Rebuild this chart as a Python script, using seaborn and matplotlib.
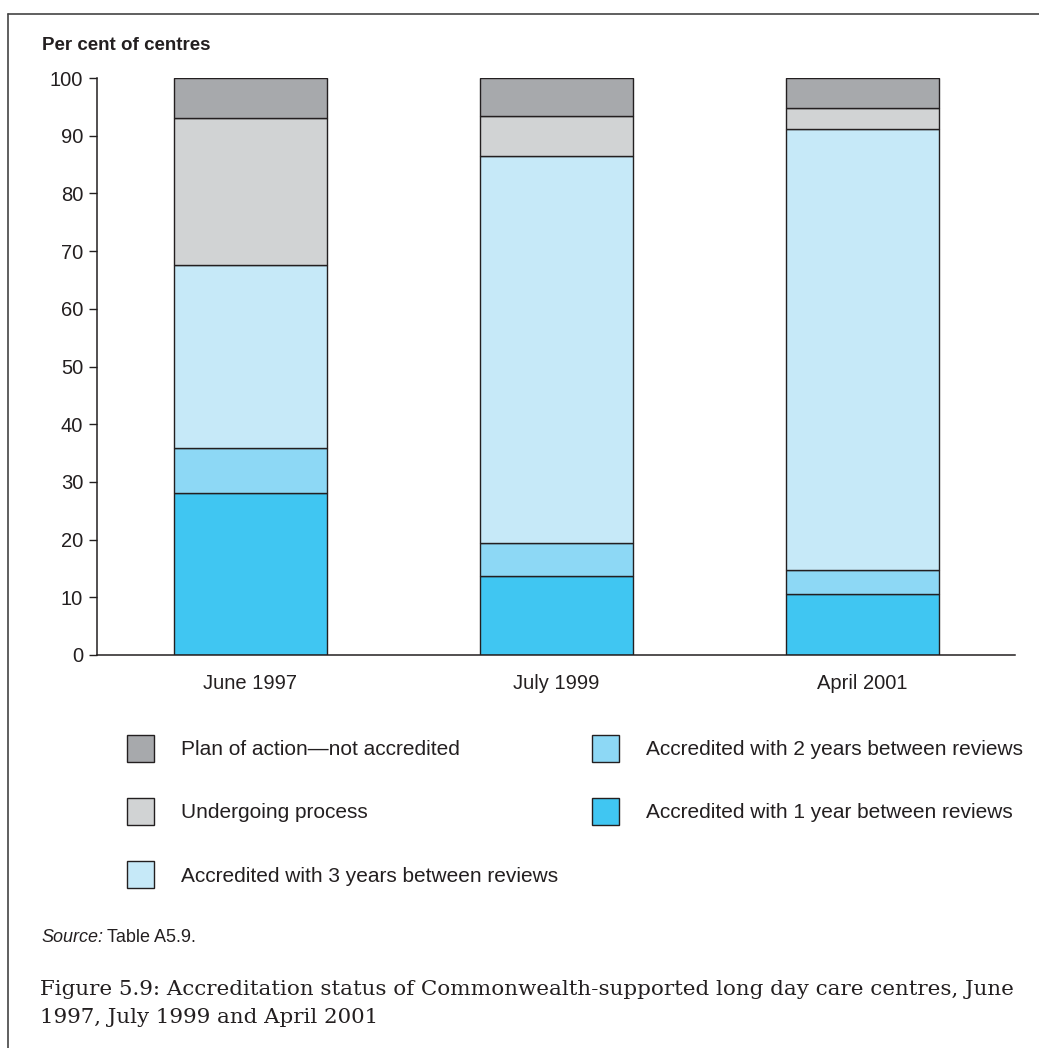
import numpy as np
import pandas as pd
import matplotlib
matplotlib.use("Agg")
import matplotlib.pyplot as plt
from matplotlib.lines import Line2D
from matplotlib.patches import Patch
import seaborn as sns

# Accreditation status, per cent of centres
periods = ["June 1997", "July 1999", "April 2001"]
one_year = [28.0, 13.7, 10.6]
two_years = [7.9, 5.7, 4.2]
three_years = [31.7, 67.1, 76.3]
undergoing = [25.5, 7.0, 3.7]
plan_of_action = [6.9, 6.5, 5.2]

series_names = [
    "Accredited with 1 year between reviews",
    "Accredited with 2 years between reviews",
    "Accredited with 3 years between reviews",
    "Undergoing process",
    "Plan of action\u2014not accredited",
]
series_values = [one_year, two_years, three_years, undergoing, plan_of_action]
series_colors = ["#40C6F2", "#8DD8F5", "#C6E9F8", "#D1D3D4", "#A7A9AC"]
y_ticks = [0, 10, 20, 30, 40, 50, 60, 70, 80, 90, 100]

sns.set_theme(style="white")
plt.rcParams["font.family"] = ["Liberation Sans", "DejaVu Sans"]
ink = "#231F20"

W, H = 1039, 1048
fig = plt.figure(figsize=(W / 100, H / 100), dpi=100)
ax = fig.add_axes([97 / W, 1 - 655 / H, (1015 - 97) / W, (655 - 78) / H])

bottoms = np.zeros(len(periods))
for name, vals, col in zip(series_names, series_values, series_colors):
    df = pd.DataFrame({"period": periods, "value": vals})
    sns.barplot(data=df, x="period", y="value", order=periods, color=col,
                width=0.5, bottom=bottoms.copy(), edgecolor=ink, linewidth=1.0,
                saturation=1, ax=ax, errorbar=None)
    bottoms += np.array(vals)

ax.set_xlim(-0.5, 2.5)
ax.set_ylim(0, 100)
ax.set_yticks(y_ticks)
ax.set_xlabel("")
ax.set_ylabel("")
for s in ["top", "right"]:
    ax.spines[s].set_visible(False)
for s in ["left", "bottom"]:
    ax.spines[s].set_color(ink)
    ax.spines[s].set_linewidth(1.1)
ax.tick_params(axis="y", length=6, width=1.0, color=ink, pad=4,
               labelsize=14.5, labelcolor=ink, left=True)
ax.tick_params(axis="x", length=0, pad=14, labelsize=14.5, labelcolor=ink)

fig.text(42 / W, 1 - 45 / H, "Per cent of centres", fontsize=13.5,
         fontweight="bold", color=ink, va="center", ha="left")

# Two-column key below the plot
def key(names, x_left, y_top):
    handles = [Patch(facecolor=series_colors[series_names.index(n)],
                     edgecolor=ink, linewidth=1.0) for n in names]
    leg = fig.legend(handles, names, loc="upper left",
                     bbox_to_anchor=(x_left / W, 1 - y_top / H),
                     frameon=False, fontsize=15, handlelength=1.3,
                     handleheight=1.6, handletextpad=1.3, labelspacing=1.75,
                     borderaxespad=0, borderpad=0)
    for t in leg.get_texts():
        t.set_color(ink)
    return leg

key([series_names[4], series_names[3], series_names[2]], 127, 735)
key([series_names[1], series_names[0]], 592, 735)

src_label = fig.text(41 / W, 1 - 937 / H, "Source:", fontsize=13, fontstyle="italic",
                     color=ink, va="center", ha="left")
fig.canvas.draw()
bb = src_label.get_window_extent(fig.canvas.get_renderer())
fig.text((bb.x1 + 4) / W, 1 - 937 / H, "Table A5.9.", fontsize=13,
         color=ink, va="center", ha="left")

caption = ("Figure 5.9: Accreditation status of Commonwealth-supported long day care centres, June\n"
           "1997, July 1999 and April 2001")
fig.text(40 / W, 1 - 980 / H, caption, fontsize=15.4, family="DejaVu Serif",
         color=ink, va="top", ha="left", linespacing=1.6)

# Page frame (left and top edges)
fig.add_artist(Line2D([8 / W, 8 / W], [0, 1 - 14 / H], transform=fig.transFigure,
                      color="#444444", linewidth=1.2))
fig.add_artist(Line2D([8 / W, 1], [1 - 14 / H, 1 - 14 / H], transform=fig.transFigure,
                      color="#444444", linewidth=1.2))

fig.savefig("out.png", dpi=100)
